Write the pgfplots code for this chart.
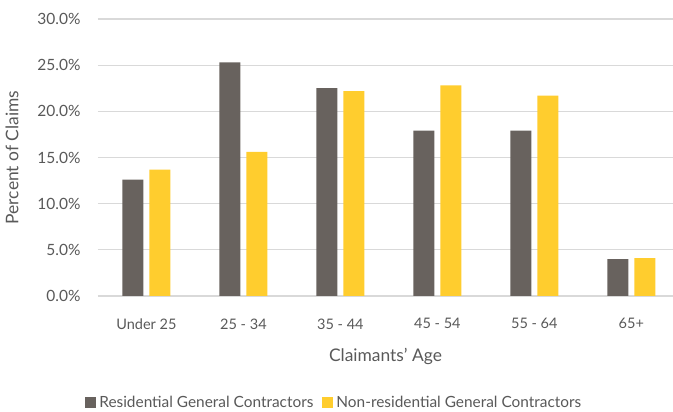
\documentclass[border=0pt]{standalone}
\usepackage{pgfplots}
\pgfplotsset{compat=1.18}
\usepackage{fontspec}
\setmainfont{Lato}
\definecolor{resgray}{HTML}{68625E}
\definecolor{nonyel}{HTML}{FFCD2E}
\definecolor{gridc}{HTML}{D9D9D9}
\definecolor{txt}{HTML}{595959}
\begin{document}
\begin{tikzpicture}[x=1pt,y=1pt]
\begin{axis}[
  name=ax,
  at={(0,0)}, anchor=south west,
  scale only axis,
  width=575pt, height=277pt,
  xmin=-0.5, xmax=5.43,
  ymin=0, ymax=30,
  axis line style={draw=none},
  ytick={0,5,10,15,20,25,30},
  yticklabels={0.0\%,5.0\%,10.0\%,15.0\%,20.0\%,25.0\%,30.0\%},
  xtick={0,1,2,3,4,5},
  xticklabels={Under 25,25 - 34,35 - 44,45 - 54,55 - 64,65+},
  major tick length=0pt,
  ymajorgrids,
  grid style={gridc, line width=1.3pt},
  tick label style={text=txt},
  yticklabel style={font=\fontsize{15.5}{18}\selectfont, xshift=-14pt},
  xticklabel style={font=\fontsize{14.5}{17}\selectfont, yshift=-19pt},
  xlabel={Claimants' Age},
  ylabel={Percent of Claims},
  label style={font=\fontsize{17.4}{20}\selectfont, text=txt},
  xlabel style={yshift=-12pt},
  ylabel style={yshift=12pt},
  ybar, bar width=21pt,
  legend columns=2,
  legend style={draw=none, at={(0.411,-0.386)}, anchor=center,
    font=\fontsize{15.4}{18}\selectfont, text=txt,
    /tikz/every odd column/.append style={column sep=1pt},
    /tikz/every even column/.append style={column sep=7pt}},
  legend image code/.code={\fill[#1] (0pt,-5.5pt) rectangle (11pt,5.5pt);},
  clip=false,
]
\addplot[fill=resgray, draw=none, bar shift=-13.5pt] coordinates {
  (0,12.6) (1,25.3) (2,22.5) (3,17.9) (4,17.9) (5,4.0)};
\addplot[fill=nonyel, draw=none, bar shift=13.5pt] coordinates {
  (0,13.7) (1,15.6) (2,22.2) (3,22.8) (4,21.7) (5,4.1)};
\legend{Residential General Contractors, Non-residential General Contractors}
\end{axis}
\pgfresetboundingbox
\path (-98pt,-116pt) rectangle ++(673pt,412pt);
\end{tikzpicture}
\end{document}
